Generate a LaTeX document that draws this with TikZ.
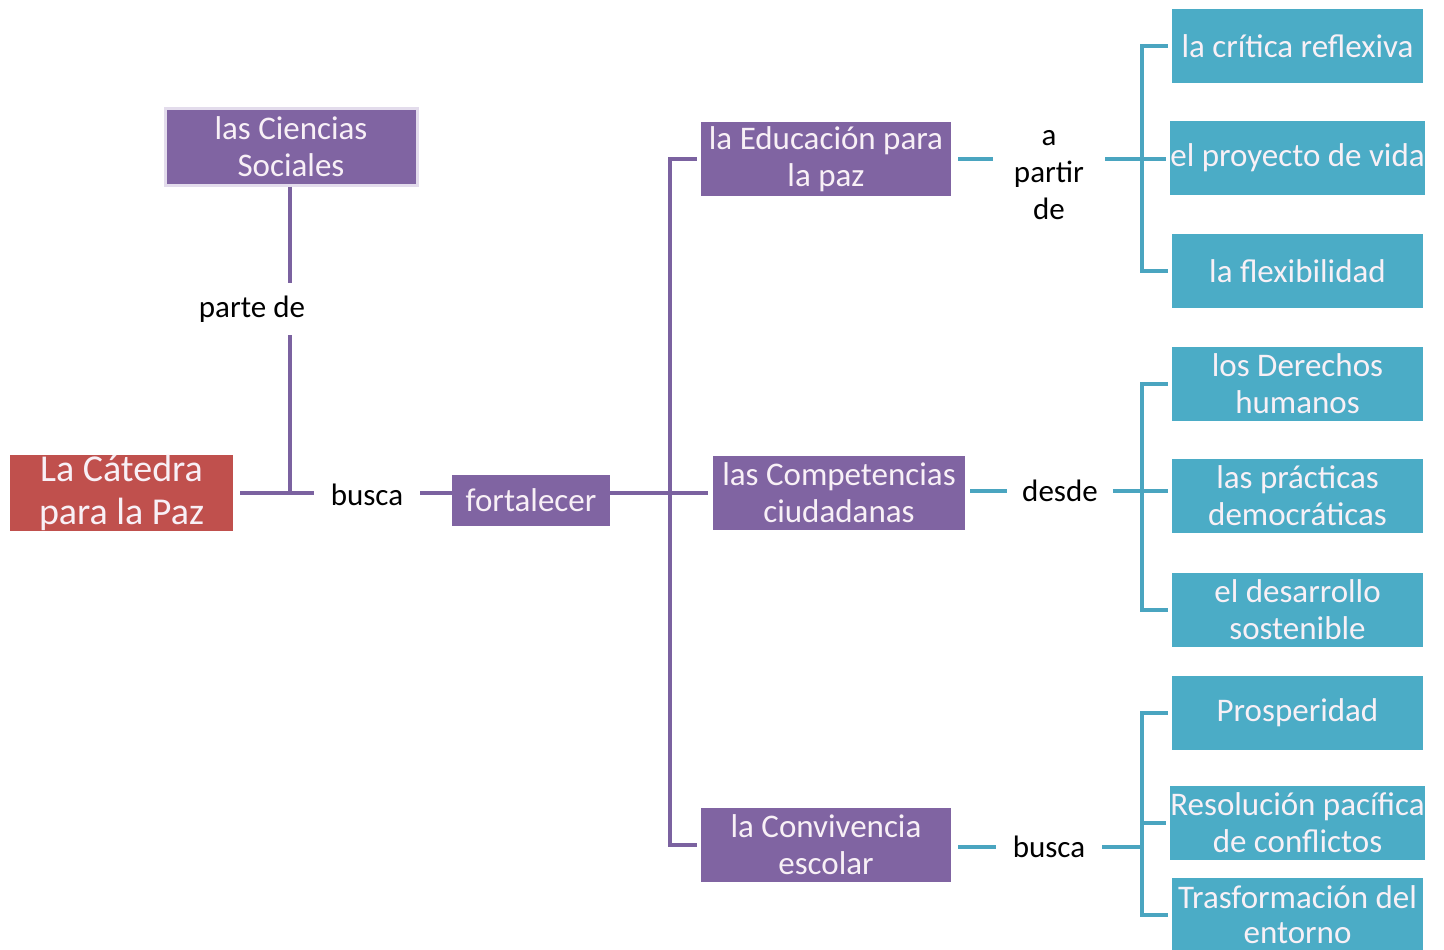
\documentclass[tikz,border=0pt]{standalone}
\usepackage{fontspec}
\setmainfont{Carlito}
\begin{document}
\begin{tikzpicture}[x=1pt,y=-1pt,
  txt/.style={font=\fontsize{33}{37}\selectfont, align=center},
  pbox/.style={txt, fill=boxpurple, text=boxtext, inner sep=0pt, minimum width=251pt, minimum height=74pt},
  tbox/.style={txt, fill=boxteal, text=boxtext, inner sep=0pt, minimum width=251pt, minimum height=74pt},
  lbl/.style={txt, font=\fontsize{31}{37}\selectfont, text=black, inner xsep=17pt, inner ysep=13pt},
  pline/.style={draw=linepurple, line width=4pt},
  tline/.style={draw=lineteal, line width=4pt}]
\definecolor{boxpurple}{HTML}{8064A2}
\definecolor{linepurple}{HTML}{7B62A0}
\definecolor{boxred}{HTML}{C0504D}
\definecolor{boxteal}{HTML}{4BACC6}
\definecolor{lineteal}{HTML}{4AA5C0}
\definecolor{paleborder}{HTML}{E3DCEC}
\definecolor{boxtext}{HTML}{F8F0F6}
\useasboundingbox (0,0) rectangle (1444,950);
\fill[white] (0,0) rectangle (1444,950);

% left part
\node[pbox, minimum width=252pt, minimum height=77pt, draw=paleborder, line width=3pt] (cs) at (291,146.5) {las Ciencias\\Sociales};
\node[txt, fill=boxred, text=boxtext, inner sep=0pt, minimum width=223pt, minimum height=74pt, font=\fontsize{38}{43}\selectfont] (cat) at (121.5,493) {La Cátedra\\para la Paz};
\node[lbl] (parte) at (252,309) {parte de};
\node[lbl] (bus1) at (367,495) {busca};
\node[pbox, minimum width=158pt, minimum height=51pt] (fort) at (531,500.5) {fortalecer};
\coordinate (j1) at (290,493);

\draw[pline] (cs.south -| j1) -- (j1 |- parte.north);
\draw[pline] (j1 |- parte.south) -- (j1);
\draw[pline] ([xshift=7pt]cat.east) -- (bus1.west |- j1);
\draw[pline] (bus1.east |- j1) -- (fort.west |- j1);

% middle purple boxes
\node[pbox, minimum width=250pt] (edu) at (826,159) {la Educación para\\la paz};
\node[pbox, minimum width=252pt] (comp) at (839,493) {las Competencias\\ciudadanas};
\node[pbox, minimum width=250pt] (conv) at (826,845) {la Convivencia\\escolar};
\coordinate (pb) at (670,493);

\draw[pline] (fort.east |- j1) -- ([xshift=-5pt]comp.west);
\draw[pline] ([xshift=-4pt]edu.west) -| (pb) |- ([xshift=-4pt]conv.west);

% right teal boxes
\node[tbox] (crit) at (1297.5,46) {la crítica reflexiva};
\node[tbox] (proy) at (1297.5,158) {el proyecto de vida};
\node[tbox] (flex) at (1297.5,271) {la flexibilidad};
\node[tbox] (der) at (1297.5,384) {los Derechos\\humanos};
\node[tbox] (prac) at (1297.5,496) {las prácticas\\democráticas};
\node[tbox] (des) at (1297.5,610) {el desarrollo\\sostenible};
\node[tbox] (pros) at (1297.5,713) {Prosperidad};
\node[tbox] (reso) at (1297.5,823) {Resolución pacífica\\de conflictos};
\node[tbox, font=\fontsize{33}{35}\selectfont, text depth=0pt] (tras) at (1297.5,915) {Trasformación del\\entorno};

% labels
\node[lbl, inner xsep=21pt] (apd) at (1049,175) {a\\partir\\de};
\node[lbl, inner xsep=15pt] (desde) at (1060,491) {desde};
\node[lbl] (bus2) at (1049,847) {busca};

% group 1
\draw[tline] ([xshift=7pt]edu.east) -- (apd.west |- edu.east);
\draw[tline] (apd.east |- edu.east) -- ([xshift=-4pt]proy.west |- edu.east);
\draw[tline] ([xshift=-4pt]crit.west) -- ([xshift=-30pt]crit.west) -- ([xshift=-30pt]flex.west) -- ([xshift=-4pt]flex.west);

% group 2
\draw[tline] ([xshift=5pt]comp.east |- desde) -- (desde.west);
\draw[tline] (desde.east) -- ([xshift=-4pt]prac.west |- desde);
\draw[tline] ([xshift=-4pt]der.west) -- ([xshift=-30pt]der.west) -- ([xshift=-30pt]des.west) -- ([xshift=-4pt]des.west);

% group 3
\draw[tline] ([xshift=7pt]conv.east |- bus2) -- (bus2.west);
\draw[tline] (bus2.east) -- ([xshift=-30pt]reso.west |- bus2);
\draw[tline] ([xshift=-4pt]pros.west) -- ([xshift=-30pt]pros.west) -- ([xshift=-30pt]tras.west) -- ([xshift=-4pt]tras.west);
\draw[tline] ([xshift=-30pt]reso.west) -- ([xshift=-4pt]reso.west);
\end{tikzpicture}
\end{document}
